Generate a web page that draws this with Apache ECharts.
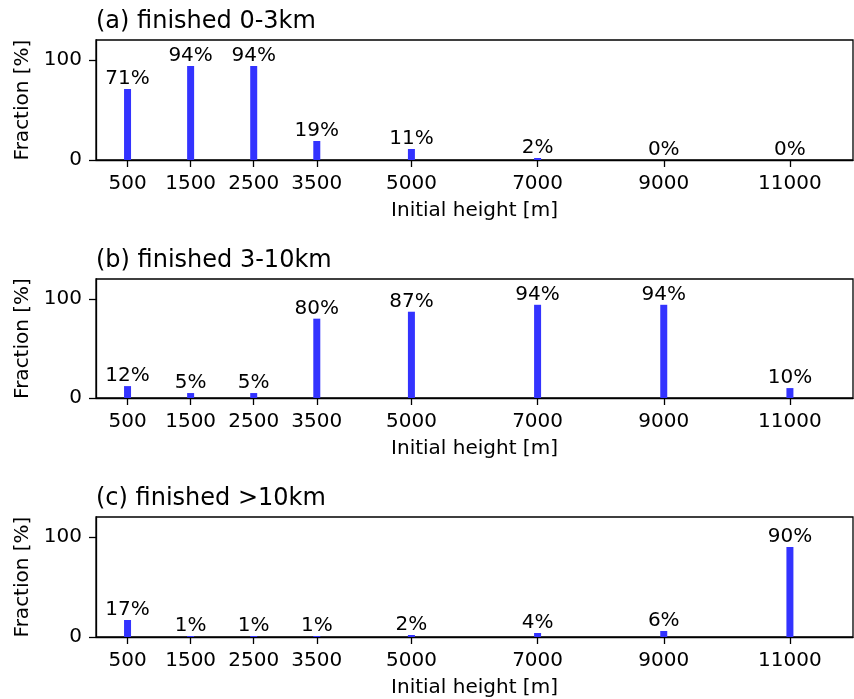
<!DOCTYPE html>
<html>
<head>
<meta charset="utf-8">
<script src="https://cdn.jsdelivr.net/npm/echarts@6/dist/echarts.min.js"></script>
<style>
html,body{margin:0;padding:0;background:#fff;}
#chart{width:854px;height:699px;}
</style>
</head>
<body>
<div id="chart"></div>
<script>
var heights = [500, 1500, 2500, 3500, 5000, 7000, 9000, 11000];
var fracA = [71, 94, 94, 19, 11, 2, 0, 0];
var fracB = [12, 5, 5, 80, 87, 94, 94, 10];
var fracC = [17, 1, 1, 1, 2, 4, 6, 90];
var titles = ['(a) finished 0-3km', '(b) finished 3-10km', '(c) finished >10km'];
var yTicks = [0, 100];
var xLabelName = 'Initial height [m]';
var yLabelName = 'Fraction [%]';

var FONT = 'DejaVu Sans';
var tops = [40, 279, 517];
var heightsPx = [120, 119, 120];
var allData = [fracA, fracB, fracC];

var chart = echarts.init(document.getElementById('chart'), null, {renderer: 'canvas'});
var grids = [], xAxes = [], yAxes = [], series = [], titleArr = [];
for (var i = 0; i < 3; i++) {
  grids.push({left: 96, top: tops[i], width: 757, height: heightsPx[i], show: true,
    borderColor: '#000', borderWidth: 1.3, containLabel: false});
  titleArr.push({text: titles[i], left: 96, top: tops[i] - 30, padding: 0,
    textStyle: {fontFamily: FONT, fontSize: 24, fontWeight: 'normal', color: '#000'}});
  xAxes.push({type: 'value', gridIndex: i, min: 0, max: 12000,
    name: xLabelName, nameLocation: 'middle', nameGap: 41,
    nameTextStyle: {fontFamily: FONT, fontSize: 20, color: '#000'},
    axisLine: {show: true, onZero: false, lineStyle: {color: '#000', width: 1.3}},
    axisTick: {show: true, length: 7, customValues: heights, lineStyle: {color: '#000', width: 1.3}},
    axisLabel: {customValues: heights, margin: 14, fontFamily: FONT, fontSize: 20, color: '#000',
      formatter: function (v) { return String(v); }},
    splitLine: {show: false}});
  yAxes.push({type: 'value', gridIndex: i, min: 0, max: 120,
    name: yLabelName, nameLocation: 'middle', nameGap: 60, nameRotate: 90,
    nameTextStyle: {fontFamily: FONT, fontSize: 20, color: '#000'},
    axisLine: {show: true, lineStyle: {color: '#000', width: 1.3}},
    axisTick: {show: true, length: 7, customValues: yTicks, lineStyle: {color: '#000', width: 1.3}},
    axisLabel: {customValues: yTicks, margin: 14, fontFamily: FONT, fontSize: 20, color: '#000'},
    splitLine: {show: false}});
  var d = allData[i].map(function (v, k) { return [heights[k], v]; });
  series.push({type: 'bar', xAxisIndex: i, yAxisIndex: i, data: d, barWidth: 7,
    itemStyle: {color: 'rgb(51,51,255)'},
    label: {show: true, position: 'top', distance: 0, fontFamily: FONT, fontSize: 20, color: '#000',
      formatter: function (p) { return p.value[1] + '%'; }},
    animation: false});
}
chart.setOption({animation: false, title: titleArr, grid: grids, xAxis: xAxes, yAxis: yAxes, series: series});
</script>
</body>
</html>
